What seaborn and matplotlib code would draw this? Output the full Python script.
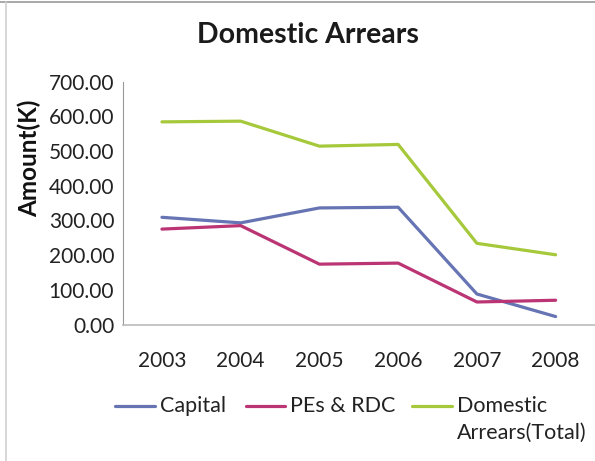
import matplotlib
matplotlib.use("Agg")
import matplotlib.pyplot as plt
from matplotlib.lines import Line2D
import seaborn as sns
import pandas as pd

years = ["2003", "2004", "2005", "2006", "2007", "2008"]
capital = [309, 293, 336, 338, 88, 23]
pes_rdc = [275, 285, 174, 177, 65, 70]
total = [584, 586, 514, 519, 234, 201]

series_names = ["Capital", "PEs & RDC", "Domestic\nArrears(Total)"]
colors = ["#6674B4", "#BB3574", "#A6C93C"]

df = pd.DataFrame({
    "pos": list(range(len(years))) * 3,
    "amount": capital + pes_rdc + total,
    "series": [s for s in series_names for _ in years],
})

sns.set_theme(style="white")
plt.rcParams["font.family"] = ["Lato", "DejaVu Sans"]

FS = 15
W, H = 595, 461

fig = plt.figure(figsize=(W / 100, H / 100), dpi=100)
ax = fig.add_axes([0.206, 0.296, 0.794, 0.527])

sns.lineplot(data=df, x="pos", y="amount", hue="series",
             palette=dict(zip(series_names, colors)), linewidth=2.3,
             legend=False, ax=ax)

ax.set_xlim(-0.5, len(years) - 0.5)
ax.set_ylim(0, 700)
ax.set_xticks(range(len(years)))
ax.set_xticklabels(years)
ax.set_yticks(range(0, 701, 100))
ax.set_yticklabels([f"{v:.2f}" for v in range(0, 701, 100)])
ax.tick_params(axis="both", length=0, labelsize=FS, colors="#222222")
ax.tick_params(axis="y", pad=6)
ax.tick_params(axis="x", pad=19)
ax.set_xlabel("")
ax.set_ylabel("Amount(K)", fontsize=17.5, fontweight="bold", color="#111111")
ax.yaxis.set_label_coords(-0.172, 0.685)

for side in ["top", "right"]:
    ax.spines[side].set_visible(False)
ax.spines["left"].set_color("#999999")
ax.spines["left"].set_linewidth(0.8)
ax.spines["bottom"].set_color("#bbbbbb")
ax.spines["bottom"].set_linewidth(1.2)

fig.text(0.518, 0.924, "Domestic Arrears", ha="center", va="center",
         fontsize=20.5, fontweight="bold", color="#1a1a1a")

# legend row below the plot: handle lines followed by their labels
handle_x = [(115, 155), (246, 285), (412, 452)]
row_y = 406
for (x0, x1), c, name in zip(handle_x, colors, series_names):
    fig.add_artist(Line2D([x0 / W, x1 / W], [1 - row_y / H, 1 - row_y / H],
                          color=c, linewidth=2.3, transform=fig.transFigure))
    fig.text((x1 + 5) / W, 1 - (row_y - 10) / H, name, ha="left", va="top",
             fontsize=15.5, color="#222222", linespacing=1.4)

# chart frame lines
fig.add_artist(Line2D([0, 1], [0.996, 0.996], color="#999999", linewidth=1.2,
                      transform=fig.transFigure))
fig.add_artist(Line2D([0.0095, 0.0095], [0, 0.996], color="#d0d0d0", linewidth=1.2,
                      transform=fig.transFigure))

fig.savefig("out.png", dpi=100)
